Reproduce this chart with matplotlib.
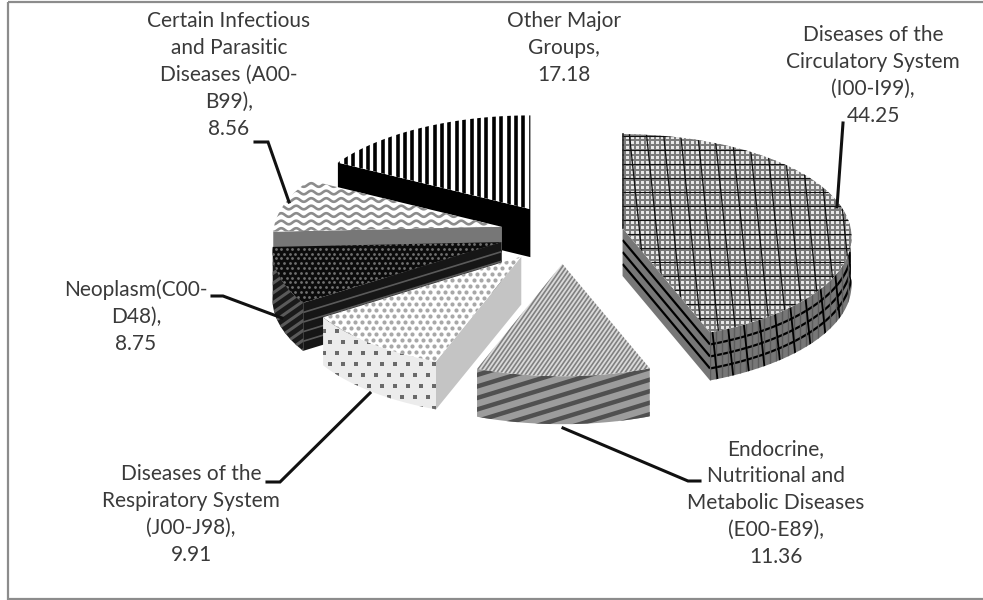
import numpy as np
import matplotlib
matplotlib.use('Agg')
import matplotlib.pyplot as plt
from matplotlib.patches import Polygon, Rectangle
from matplotlib.collections import LineCollection

# Values
categories = ['Diseases of the\nCirculatory System\n(I00-I99),',
              'Endocrine,\nNutritional and\nMetabolic Diseases\n(E00-E89),',
              'Diseases of the\nRespiratory System\n(J00-J98),',
              'Neoplasm(C00-\nD48),',
              'Certain Infectious\nand Parasitic\nDiseases (A00-\nB99),',
              'Other Major\nGroups,']
values = [44.25, 11.36, 9.91, 8.75, 8.56, 17.18]

# Geometry of the tilted pie, in pixels
cx, cy = 562, 233
rx, ry = 228, 103
persp = 0.09  # near side of the pie looks a bit bigger
depth = 48
explode = [0.27, 0.30, 0.29, 0.28, 0.27, 0.27]
draw_order = [5, 4, 0, 3, 1, 2]

# Label centres and leader lines, in pixels
label_x = [873, 776, 191, 136, 229, 564]
label_y = [35, 449, 474, 290, 21, 21]
leaders = [[(843, 123), (837, 207)],
           [(563, 428), (688, 481), (700, 481)],
           [(370, 393), (280, 482), (267, 482)],
           [(212, 296), (223, 296), (282, 318)],
           [(255, 142), (268, 142), (289, 202)]]

fig = plt.figure(figsize=(9.83, 6.0), dpi=100)
ax = fig.add_axes([0, 0, 1, 1])
ax.set_xlim(0, 983)
ax.set_ylim(600, 0)
ax.axis('off')
ax.add_patch(Rectangle((8, 2), 1000, 596.5, fill=False, ec='#8c8c8c', lw=1.6))


def rim(ox, oy, t):
    s = 1 - persp * np.cos(t)
    return np.column_stack([ox + rx * s * np.sin(t), oy - ry * s * np.cos(t)])


def stripes(patch, angle, spacing, lw, color, z):
    # straight lines across the slice, clipped to it
    a = np.radians(angle)
    d = np.array([np.cos(a), np.sin(a)])
    n = np.array([-d[1], d[0]])
    centre = np.array([500, 300])
    segs = [[centre + n * k - d * 1200, centre + n * k + d * 1200]
            for k in np.arange(-1200, 1200, spacing)]
    lc = LineCollection(segs, colors=color, linewidths=lw, zorder=z)
    ax.add_collection(lc)
    lc.set_clip_path(patch)


def waves(patch, spacing, amp, period, lw, color, z):
    x = np.arange(200, 620, 1.0)
    segs = [np.column_stack([x, y0 + amp * np.sin(2 * np.pi * x / period)])
            for y0 in np.arange(140, 300, spacing)]
    lc = LineCollection(segs, colors=color, linewidths=lw, zorder=z)
    ax.add_collection(lc)
    lc.set_clip_path(patch)


def dots(patch, step_x, step_y, size, color, marker, z):
    xs, ys = [], []
    for i, y0 in enumerate(np.arange(100, 480, step_y)):
        row = np.arange(200, 640, step_x) + (i % 2) * step_x / 2
        xs.extend(row)
        ys.extend([y0] * len(row))
    sc = ax.scatter(xs, ys, s=size, c=color, marker=marker, linewidths=0, zorder=z)
    sc.set_clip_path(patch)


def side(edge, face, z, n_lines=0, line_color='k', lw=1.6):
    # wall hanging below an edge of the top face
    low = edge + np.array([0, depth])
    patch = Polygon(np.vstack([edge, low[::-1]]), closed=True, fc=face, ec='none', zorder=z)
    ax.add_patch(patch)
    for f in np.linspace(0, 1, n_lines + 2)[1:-1]:
        line, = ax.plot(edge[:, 0], edge[:, 1] + f * depth, color=line_color, lw=lw, zorder=z + 0.1,
                        solid_capstyle='butt')
        line.set_clip_path(patch)
    return patch


angles = np.cumsum([0] + values) / sum(values) * 2 * np.pi

for order, i in enumerate(draw_order):
    z = 2 + order
    t0, t1 = angles[i], angles[i + 1]
    mid = (t0 + t1) / 2
    ox = cx + explode[i] * rx * np.sin(mid)
    oy = cy - explode[i] * ry * np.cos(mid)
    apex = np.array([[ox, oy]])
    arc = rim(ox, oy, np.linspace(t0, t1, 80))
    front = rim(ox, oy, np.linspace(max(t0, np.pi / 2), min(t1, 3 * np.pi / 2), 60))
    spoke0 = np.vstack([apex, arc[:1]])
    spoke1 = np.vstack([apex, arc[-1:]])

    if i == 0:
        s = side(spoke1, '#777777', z, 3)
        s = side(front, '#777777', z, 3)
        stripes(s, 84, 16, 1.3, 'k', z + 0.2)
        stripes(s, 90, 6, 1.0, '#5c5c5c', z + 0.1)
    elif i == 1:
        s = side(front, '#9c9c9c', z)
        stripes(s, -17, 11, 3.2, '#505050', z + 0.1)
    elif i == 2:
        side(spoke0, '#c4c4c4', z)
        s = side(front, '#ececec', z)
        dots(s, 13, 11, 8, '#6a6a6a', 's', z + 0.1)
    elif i == 3:
        side(spoke0, '#161616', z, 4, '#5a5a5a', 1.2)
        s = side(front, '#1a1a1a', z)
        stripes(s, -35, 8, 2.2, '#5a5a5a', z + 0.1)
    elif i == 4:
        side(spoke0, '#777777', z, 1, '#333333', 1.5)
    elif i == 5:
        side(spoke1, '#000000', z)
        side(spoke0, '#000000', z)

    # top face with its fill pattern
    top_face = {0: '#e8e8e8', 1: '#dadada', 2: 'white', 3: '#0c0c0c', 4: 'white', 5: 'white'}[i]
    top = Polygon(np.vstack([apex, arc]), closed=True, fc=top_face, ec='none', zorder=z + 0.5)
    ax.add_patch(top)
    if i == 0:
        stripes(top, 0, 5, 1.4, '#7a7a7a', z + 0.6)
        stripes(top, 90, 5, 1.4, '#7a7a7a', z + 0.6)
        stripes(top, 0, 14, 0.8, '#111111', z + 0.7)
        stripes(top, 84, 17, 0.9, '#111111', z + 0.7)
        ax.plot(spoke0[:, 0], spoke0[:, 1], color='#222222', lw=1.2, zorder=z + 0.8)
    elif i == 1:
        stripes(top, -55, 3.5, 1.2, '#808080', z + 0.6)
    elif i == 2:
        dots(top, 7.2, 6.0, 9, '#a8a8a8', 'o', z + 0.6)
    elif i == 3:
        dots(top, 5.6, 4.8, 4, '#707070', 'o', z + 0.6)
    elif i == 4:
        waves(top, 7.5, 1.8, 15, 1.9, '#8c8c8c', z + 0.6)
    elif i == 5:
        stripes(top, 90, 7.4, 2.6, 'k', z + 0.6)

for pts in leaders:
    xy = np.array(pts)
    ax.plot(xy[:, 0], xy[:, 1], color='#111111', lw=2.2, zorder=20, solid_joinstyle='miter')

for name, val, x, y in zip(categories, values, label_x, label_y):
    lines = (name + '\n' + f'{val:.2f}').split('\n')
    for k, line in enumerate(lines):
        ax.text(x, y + 27 * k, line, ha='center', va='center', family='Lato', fontsize=15,
                color='#3a3a3a', zorder=21)

fig.savefig('out.png', dpi=100, facecolor='white')
